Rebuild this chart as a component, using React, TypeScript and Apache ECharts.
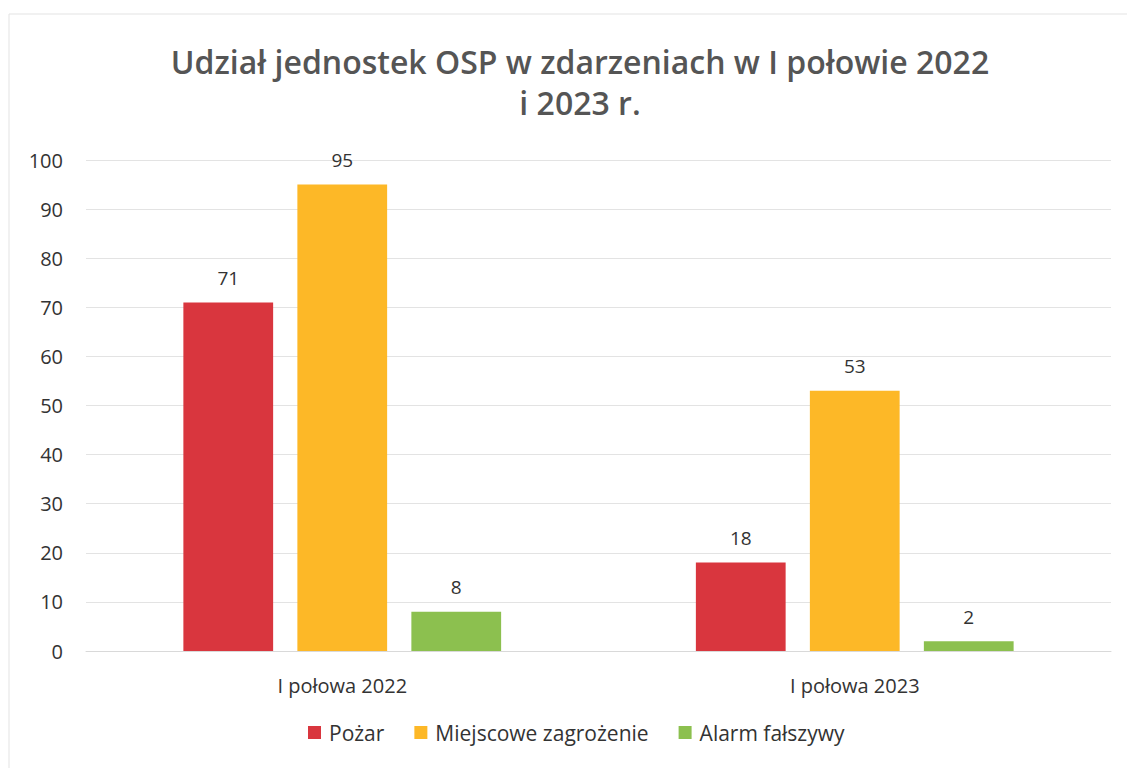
import React, { useEffect, useRef } from "react";
import * as echarts from "echarts";

const categories = ["I połowa 2022", "I połowa 2023"];
const seriesNames = ["Pożar", "Miejscowe zagrożenie", "Alarm fałszywy"];
const pozar = [71, 18];
const miejscowe = [95, 53];
const alarm = [8, 2];
const colors = ["#d9363e", "#fdb827", "#8cc04f"];
const titleLines = ["Udział jednostek OSP w zdarzeniach w I połowie 2022", "i 2023 r."];

const FONT = "'Open Sans', 'Noto Sans', sans-serif";

export default function App() {
  const ref = useRef<HTMLDivElement>(null);
  useEffect(() => {
    if (!ref.current) return;
    const chart = echarts.init(ref.current, undefined, { renderer: "svg" });
    const values = [pozar, miejscowe, alarm];
    chart.setOption({
      animation: false,
      backgroundColor: "#ffffff",
      title: {
        text: titleLines.join("\n"),
        left: 575,
        textAlign: "center",
        top: 36,
        textStyle: {
          fontFamily: FONT,
          fontSize: 32,
          fontWeight: 600,
          color: "#555555",
          lineHeight: 41,
        },
      },
      graphic: [
        {
          type: "rect",
          shape: { x: 9, y: 14, width: 1130, height: 760 },
          style: { fill: "none", stroke: "#e3e3e3", lineWidth: 1 },
          silent: true,
        },
      ],
      legend: {
        bottom: 20,
        left: 303,
        itemWidth: 13,
        itemHeight: 13,
        itemGap: 30,
        icon: "rect",
        textStyle: { fontFamily: FONT, fontSize: 21, color: "#333", padding: [0, 0, 0, 3] },
        data: seriesNames,
      },
      grid: { left: 86, right: 16, top: 160, bottom: 117, containLabel: false },
      xAxis: {
        type: "category",
        data: categories,
        axisLine: { lineStyle: { color: "#d9d9d9" } },
        axisTick: { show: false },
        axisLabel: { fontFamily: FONT, fontSize: 20, color: "#333", margin: 24 },
      },
      yAxis: {
        type: "value",
        min: 0,
        max: 100,
        interval: 10,
        axisLine: { show: false },
        axisTick: { show: false },
        axisLabel: { fontFamily: FONT, fontSize: 20, color: "#333", margin: 23 },
        splitLine: { lineStyle: { color: "#e3e3e3" } },
      },
      series: seriesNames.map((name, i) => ({
        name,
        type: "bar",
        data: values[i],
        barGap: "27%",
        barCategoryGap: "38%",
        itemStyle: { color: colors[i] },
        label: {
          show: true,
          position: "top",
          distance: 15,
          fontFamily: FONT,
          fontSize: 19,
          color: "#333",
        },
      })),
    });
    return () => chart.dispose();
  }, []);
  return (
    <div
      ref={ref}
      style={{ position: "absolute", left: 0, top: 0, width: 1127, height: 768 }}
    />
  );
}
